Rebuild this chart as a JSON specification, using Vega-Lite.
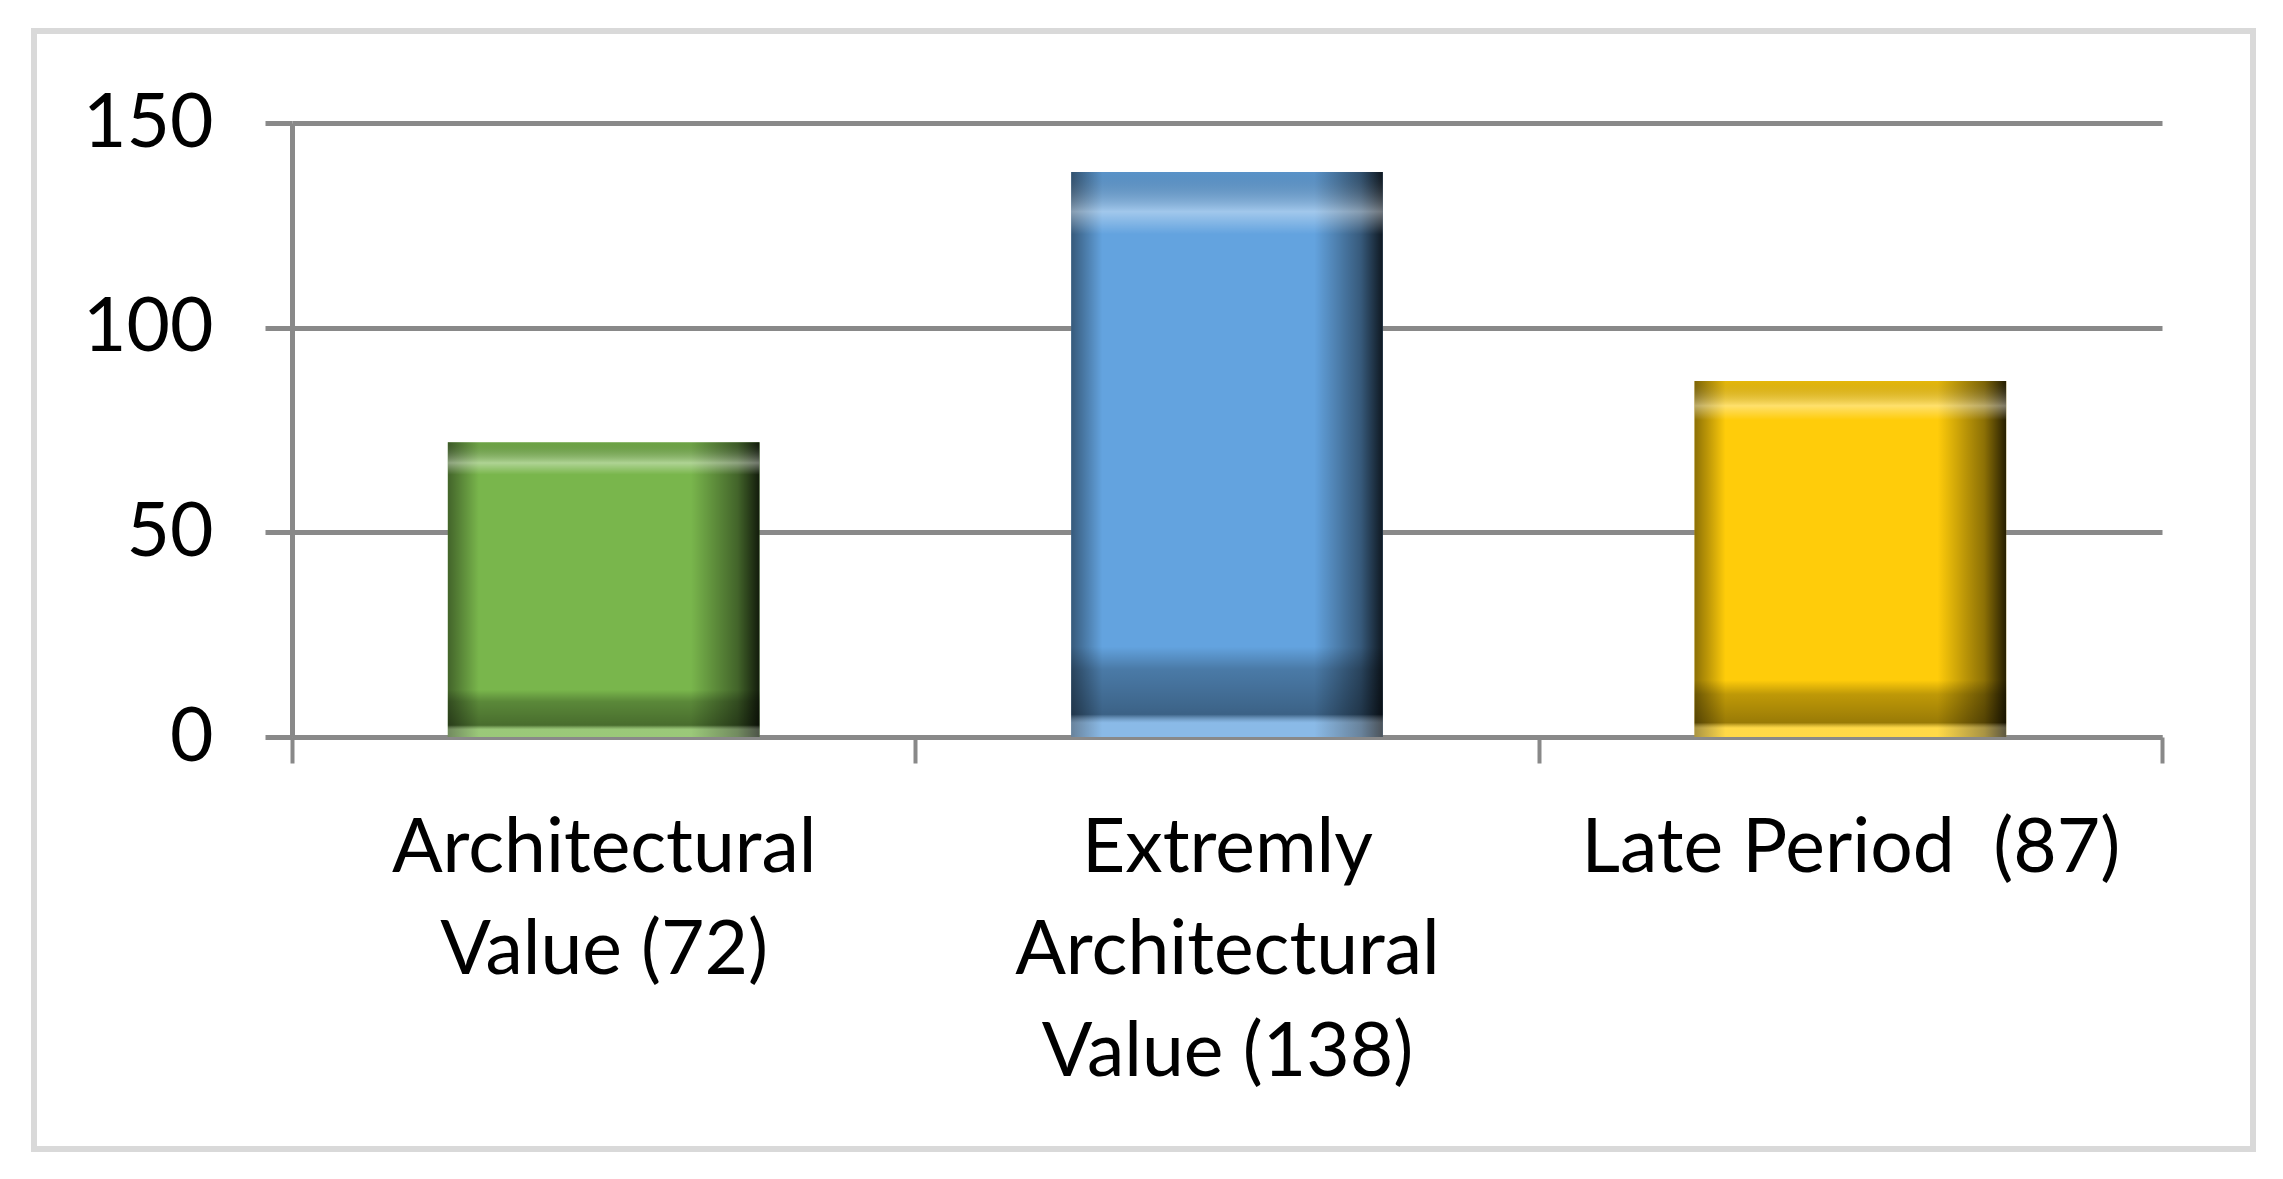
{
  "$schema": "https://vega.github.io/schema/vega-lite/v6.json",
  "width": 2219,
  "height": 1118,
  "autosize": {"type": "none"},
  "padding": {"left": 34, "top": 31, "right": 30, "bottom": 30},
  "background": "white",
  "config": {
    "view": {"stroke": "#d9d9d9", "strokeWidth": 6},
    "font": "Lato"
  },
  "data": {
    "values": [
      {"category": "Architectural|Value (72)", "count": 72},
      {"category": "Extremly|Architectural|Value (138)", "count": 138},
      {"category": "Late Period \u00a0(87)", "count": 87}
    ]
  },
  "encoding": {
    "x": {
      "field": "category",
      "type": "nominal",
      "sort": null,
      "scale": {"range": [258, 2128], "paddingInner": 0, "paddingOuter": 0},
      "axis": {
        "title": null,
        "orient": "bottom",
        "offset": -412,
        "tickBand": "extent",
        "ticks": true,
        "tickSize": 26,
        "tickWidth": 4,
        "tickColor": "#898989",
        "domainColor": "#898989",
        "domainWidth": 5,
        "grid": false,
        "labelAngle": 0,
        "labelFont": "Lato",
        "labelFontSize": 75,
        "labelColor": "#000000",
        "labelLineHeight": 102,
        "labelPadding": 49,
        "labelLimit": 0,
        "labelOverlap": false,
        "labelExpr": "split(datum.label, '|')"
      }
    },
    "y": {
      "field": "count",
      "type": "quantitative",
      "scale": {"domain": [0, 150], "range": [706, 92], "nice": false},
      "axis": {
        "title": null,
        "orient": "left",
        "offset": -258,
        "values": [0, 50, 100, 150],
        "tickSize": 27,
        "tickWidth": 5,
        "tickColor": "#898989",
        "domainColor": "#898989",
        "domainWidth": 5,
        "grid": true,
        "gridColor": "#898989",
        "gridWidth": 5,
        "labelFont": "Lato",
        "labelFontSize": 75,
        "labelColor": "#000000",
        "labelPadding": 52
      }
    }
  },
  "layer": [
    {
      "mark": {"type": "bar", "width": {"band": 0.5}},
      "encoding": {
        "color": {
          "field": "category",
          "type": "nominal",
          "sort": null,
          "scale": {
            "domain": ["Architectural|Value (72)", "Extremly|Architectural|Value (138)", "Late Period \u00a0(87)"],
            "range": ["#79b64c", "#63a3df", "#ffcc0a"]
          },
          "legend": null
        }
      }
    },
    {
      "mark": {
        "type": "bar",
        "width": {"band": 0.5},
        "fill": {
          "gradient": "linear",
          "x1": 0, "x2": 1, "y1": 0, "y2": 0,
          "stops": [
            {"offset": 0, "color": "rgba(0,0,0,0.45)"},
            {"offset": 0.1, "color": "rgba(0,0,0,0)"},
            {"offset": 0.78, "color": "rgba(0,0,0,0)"},
            {"offset": 0.93, "color": "rgba(0,0,0,0.45)"},
            {"offset": 1, "color": "rgba(0,0,0,0.85)"}
          ]
        }
      }
    },
    {
      "mark": {
        "type": "bar",
        "width": {"band": 0.5},
        "fill": {
          "gradient": "linear",
          "x1": 0, "x2": 0, "y1": 0, "y2": 1,
          "stops": [
            {"offset": 0, "color": "rgba(0,0,0,0.1)"},
            {"offset": 0.07, "color": "rgba(255,255,255,0.4)"},
            {"offset": 0.11, "color": "rgba(255,255,255,0)"},
            {"offset": 0.84, "color": "rgba(0,0,0,0)"},
            {"offset": 0.88, "color": "rgba(0,0,0,0.25)"},
            {"offset": 0.96, "color": "rgba(0,0,0,0.4)"},
            {"offset": 0.975, "color": "rgba(255,255,255,0.25)"},
            {"offset": 1, "color": "rgba(255,255,255,0.25)"}
          ]
        }
      }
    }
  ]
}
